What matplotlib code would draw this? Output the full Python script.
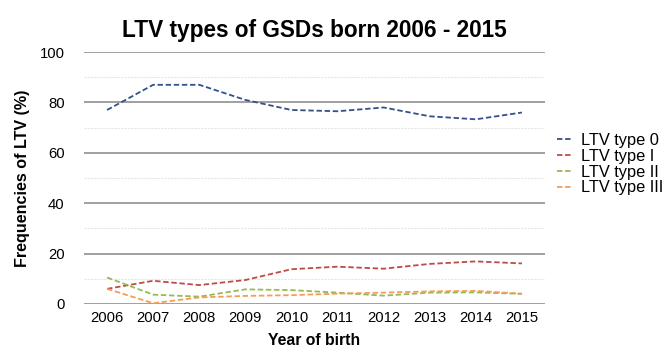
import matplotlib
matplotlib.use("Agg")
import matplotlib.pyplot as plt

plt.rcParams['font.family'] = ['Liberation Sans', 'DejaVu Sans']

years = [2006, 2007, 2008, 2009, 2010, 2011, 2012, 2013, 2014, 2015]
type0 = [77.0, 87.0, 87.0, 81.0, 77.0, 76.5, 78.0, 74.5, 73.3, 76.0]
type1 = [6.0, 9.2, 7.5, 9.5, 13.8, 14.8, 14.0, 15.9, 16.9, 16.1]
type2 = [10.5, 3.7, 2.9, 5.8, 5.5, 4.5, 3.3, 4.5, 4.6, 4.0]
type3 = [6.0, 0.3, 2.6, 3.2, 3.5, 4.1, 4.5, 5.0, 5.2, 4.1]
series_names = ["LTV type 0", "LTV type I", "LTV type II", "LTV type III"]
colors = ["#34518A", "#BE4B48", "#98B954", "#F59D56"]

fig = plt.figure(figsize=(6.67, 3.47), dpi=100)
ax = fig.add_axes([0.126, 0.124, 0.691, 0.726])

for vals, name, c in zip([type0, type1, type2, type3], series_names, colors):
    ax.plot(years, vals, color=c, lw=1.3, dashes=(3, 1.5), label=name, zorder=3)

ax.set_xlim(2005.5, 2015.5)
ax.set_ylim(0, 100)
ax.set_yticks(range(0, 101, 20))
ax.set_yticks(range(10, 100, 20), minor=True)
ax.set_xticks(years)
ax.grid(axis='y', which='major', color='#999999', lw=1.3)
ax.grid(axis='y', which='minor', color='#e6e6e6', lw=0.8, ls=(0, (2, 1)))
ax.set_axisbelow(True)
for s in ax.spines.values():
    s.set_visible(False)
ax.tick_params(axis='both', which='both', length=0, labelsize=10.7, colors='#000000')
ax.tick_params(axis='y', pad=14)
ax.tick_params(axis='x', pad=5)

ax.set_title("LTV types of GSDs born 2006 - 2015", fontsize=16.3, fontweight='bold', pad=11)
ax.set_xlabel("Year of birth", fontsize=11.3, fontweight='bold', labelpad=5.5)
ax.set_ylabel("Frequencies of LTV (%)", fontsize=11.6, fontweight='bold', labelpad=7)

leg = ax.legend(loc='center left', bbox_to_anchor=(1.0, 0.555), frameon=False,
                fontsize=11.8, handlelength=0.95, handletextpad=0.5, labelspacing=0.05,
                borderaxespad=0.35)

fig.savefig("out.png", dpi=100)
